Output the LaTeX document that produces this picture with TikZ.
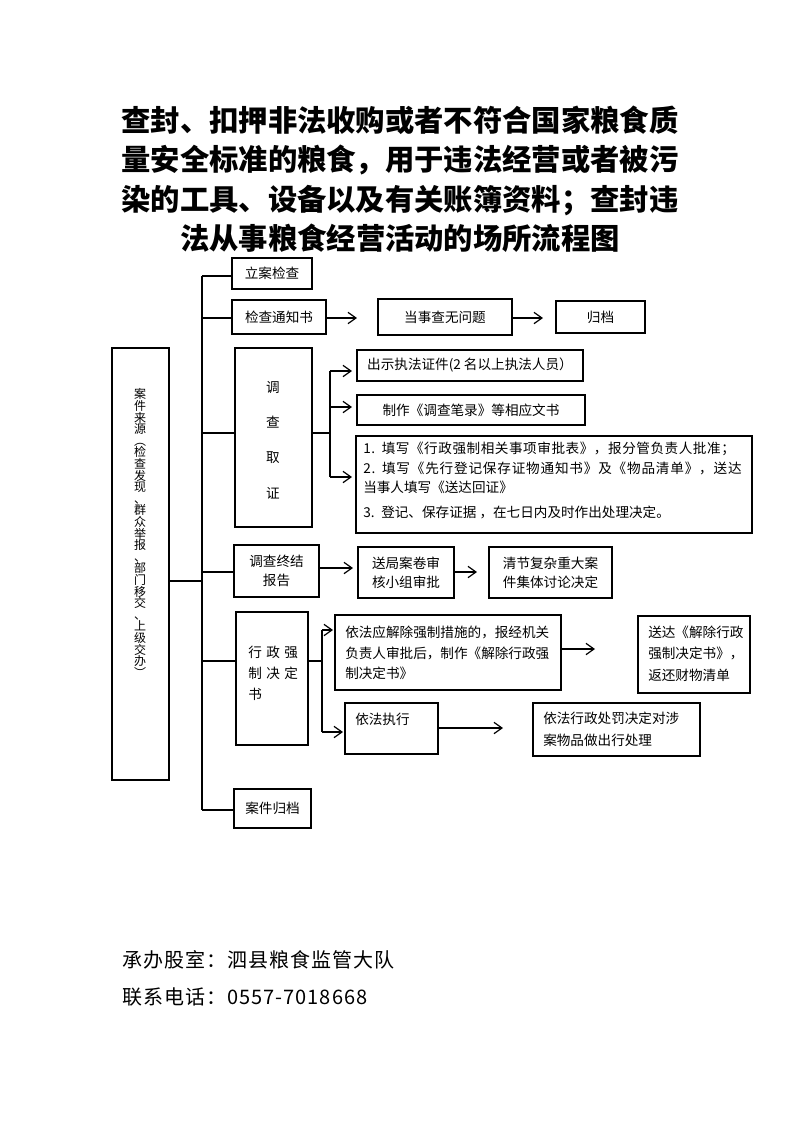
\documentclass[tikz,border=0pt]{standalone}
\usepackage{fontspec}
\setmainfont{Noto Sans CJK SC}
\usetikzlibrary{arrows.meta}
\newcommand\tightlines{\lineskiplimit=-6pt\relax}
\tikzset{
  box/.style={draw, line width=1.1pt, inner sep=0pt, align=center, font=\fontsize{10.2}{14.5}\selectfont},
  ln/.style={line width=0.9pt},
  arr/.style={ln, -{Straight Barb[length=6pt,width=8.5pt,line width=0.9pt]}},
  txt/.style={inner sep=0pt, anchor=west, text height=8.9pt, text depth=1.3pt, font=\fontsize{10.2}{14.5}\selectfont},
}
\newcommand\mybox[7][]{\node[box,minimum width={(#5-#3)*0.75pt},minimum height={(#6-#4)*0.75pt},#1] (#2) at ({(#3+#5)/2},{(#4+#6)/2}) {#7};}
\begin{document}
\begin{tikzpicture}[x=0.75pt,y=-0.75pt]
\useasboundingbox (0,0) rectangle (793,1122);
% title
\node[font=\bfseries\fontsize{22}{29.6}\selectfont, align=center, inner sep=0pt] (title) at (400,179)
  {查封、扣押非法收购或者不符合国家粮食质\\量安全标准的粮食，用于违法经营或者被污\\染的工具、设备以及有关账簿资料；查封违\\法从事粮食经营活动的场所流程图};
% boxes
\mybox{src}{112}{348}{169}{780}{}
\node[inner sep=0pt, align=center, font=\fontsize{9}{8.7}\selectfont\tightlines] (srct) at (140,533)
  {案\\件\\来\\源\\︵\\检\\查\\发\\现\\、\\群\\众\\举\\报\\、\\部\\门\\移\\交\\、\\上\\级\\交\\办\\︶};
\mybox{lian}{232}{258}{312}{289}{立案检查}
\mybox{jz}{232}{300}{326}{334}{检查通知书}
\mybox{wt}{378}{299}{512}{335}{当事查无问题}
\mybox{gd}{556}{301}{645}{333}{归档}
\mybox{dc}{235}{348}{312}{527}{}
\node[inner sep=0pt, align=center, font=\fontsize{10.2}{26.5}\selectfont] (dct) at (273,440) {调\\查\\取\\证};
\mybox{c1}{357}{350}{583}{381}{出示执法证件(2 名以上执法人员）}
\mybox{c2}{357}{395}{585}{425}{制作《调查笔录》等相应文书}
\mybox{c3}{356}{436}{752}{533}{}
\node[txt, font=\fontsize{10.2}{14.5}\selectfont\addfontfeatures{LetterSpace=4}] (c3a) at (363,448) {1.\hspace{5pt}填写《行政强制相关事项审批表》，报分管负责人批准；};
\node[txt, font=\fontsize{10.2}{14.5}\selectfont\addfontfeatures{LetterSpace=6}] (c3b) at (363,468) {2.\hspace{5pt}填写《先行登记保存证物通知书》及《物品清单》，送达};
\node[txt] (c3c) at (363,487) {当事人填写《送达回证》};
\node[txt] (c3d) at (363,512) {3.\hspace{5pt}登记、保存证据 ，在七日内及时作出处理决定。};
\mybox{zj}{234}{545}{319}{597}{调查终结\\报告}
\mybox{sj}{358}{547}{454}{598}{送局案卷审\\核小组审批}
\mybox{qj}{489}{547}{612}{598}{清节复杂重大案\\件集体讨论决定}
\mybox{xz}{236}{612}{308}{745}{}
\node[txt] (xza) at (248,652) {行\kern3.3pt政\kern3.3pt强};
\node[txt] (xzb) at (248,673) {制\kern3.3pt决\kern3.3pt定};
\node[txt] (xzc) at (248,694) {书};
\mybox{jc}{335}{615}{561}{690}{}
\node[txt] (jca) at (345,632) {依法应解除强制措施的，报经机关};
\node[txt] (jcb) at (345,653) {负责人审批后，制作《解除行政强};
\node[txt] (jcc) at (345,673) {制决定书》};
\mybox{sd}{638}{616}{750}{693}{}
\node[txt] (sda) at (648,632) {送达《解除行政};
\node[txt] (sdb) at (648,653) {强制决定书》，};
\node[txt] (sdc) at (648,675) {返还财物清单};
\mybox{zx}{345}{703}{438}{754}{}
\node[txt] (zxa) at (355,719) {依法执行};
\mybox{cf}{533}{703}{700}{756}{}
\node[txt] (cfa) at (543,718) {依法行政处罚决定对涉};
\node[txt] (cfb) at (543,740) {案物品做出行处理};
\mybox{gdz}{234}{789}{311}{828}{案件归档}
% trunk
\coordinate (tTop) at (202,276);
\coordinate (tJz) at (202,318);
\coordinate (tDc) at (202,433);
\coordinate (tZj) at (202,572);
\coordinate (tSrc) at (202,581);
\coordinate (tXz) at (202,661);
\coordinate (tBot) at (202,810);
\draw[ln] (tTop) -- (tBot);
\draw[ln] (tTop) -- (tTop -| lian.west);
\draw[ln] (tJz) -- (tJz -| jz.west);
\draw[ln] (tDc) -- (tDc -| dc.west);
\draw[ln] (tZj) -- (tZj -| zj.west);
\draw[ln] (tXz) -- (tXz -| xz.west);
\draw[ln] (tBot) -- (tBot -| gdz.west);
\draw[ln] (tSrc -| src.east) -- (tSrc);
% row 2 arrows
\coordinate (a1) at (357,318);
\coordinate (a2) at (543,318);
\draw[arr] (jz.east |- a1) -- (a1);
\draw[arr] (wt.east |- a2) -- (a2);
% investigation split
\coordinate (s1) at (330,433);
\coordinate (s1t) at (330,371);
\coordinate (s1m) at (330,407);
\coordinate (s1b) at (330,477);
\coordinate (e1) at (352,371);
\coordinate (e2) at (352,407);
\coordinate (e3) at (352,477);
\draw[ln] (dc.east |- s1) -- (s1);
\draw[ln] (s1t) -- (s1b);
\draw[arr] (s1t) -- (e1);
\draw[arr] (s1m) -- (e2);
\draw[arr] (s1b) -- (e3);
% conclusion row
\coordinate (e4) at (353,568);
\coordinate (e5) at (477,572);
\draw[arr] (zj.east |- e4) -- (e4);
\draw[arr] (sj.east |- e5) -- (e5);
% decision split
\coordinate (s2) at (322,661);
\coordinate (s2t) at (322,630);
\coordinate (s2b) at (322,732);
\coordinate (e6) at (333,630);
\coordinate (e7) at (343,732);
\draw[ln] (xz.east |- s2) -- (s2);
\draw[ln] (s2t) -- (s2b);
\draw[arr] (s2t) -- (e6);
\draw[arr] (s2b) -- (e7);
\coordinate (e8) at (595,649);
\coordinate (e9) at (503,728);
\draw[arr] (jc.east |- e8) -- (e8);
\draw[arr] (zx.east |- e9) -- (e9);
% footer
\node[anchor=west, inner sep=0pt, font=\fontsize{15}{20}\selectfont\addfontfeatures{LetterSpace=5}] (f1) at (122,960) {承办股室：泗县粮食监管大队};
\node[anchor=west, inner sep=0pt, font=\fontsize{15}{20}\selectfont\addfontfeatures{LetterSpace=5}] (f2) at (122,997) {联系电话：0557-7018668};
\end{tikzpicture}
\end{document}
